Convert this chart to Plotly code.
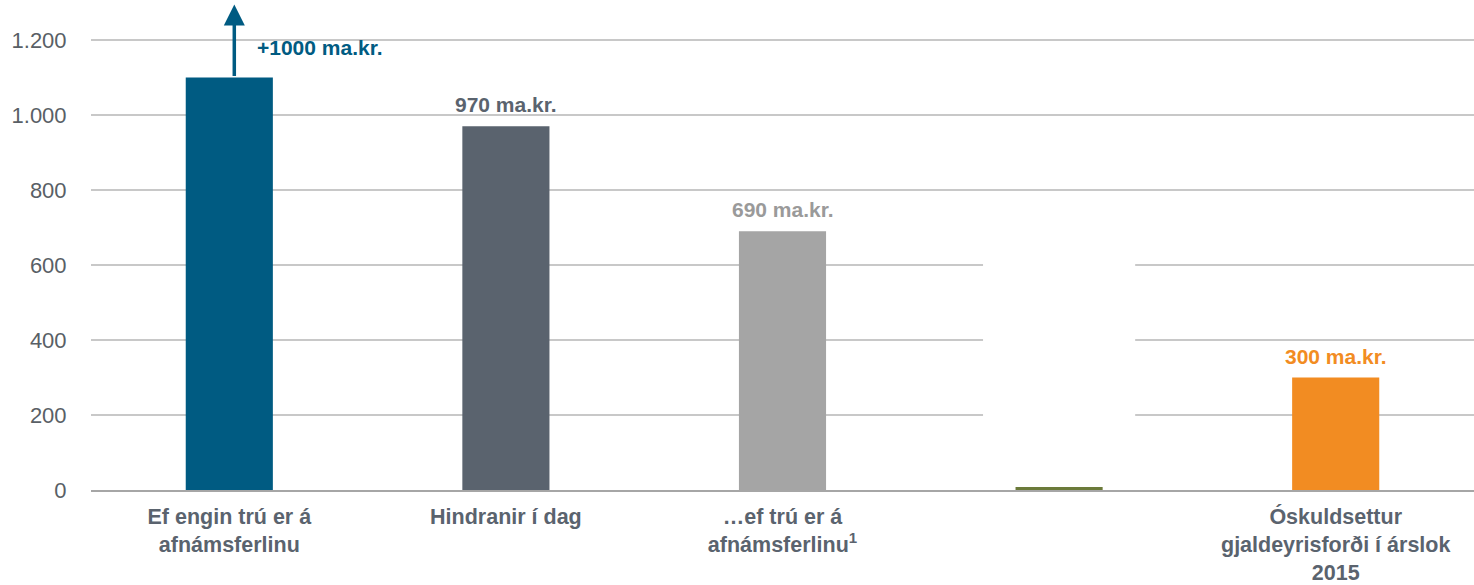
import plotly.graph_objects as go

categories = ["c1", "c2", "c3", "c4", "c5"]
tick_labels = [
    "Ef engin trú er á<br>afnámsferlinu",
    "Hindranir í dag",
    "…ef trú er á<br>afnámsferlinu<sup>1</sup>",
    "",
    "Óskuldsettur<br>gjaldeyrisforði í árslok<br>2015",
]
values = [1100, 970, 690, 8, 300]
bar_colors = ["#005b82", "#5a636e", "#a5a5a5", "#6b7a3a", "#f28c22"]
value_labels = ["+1000 ma.kr.", "970 ma.kr.", "690 ma.kr.", "", "300 ma.kr."]
label_colors = ["#005b82", "#5a636e", "#9a9a9a", "#6b7a3a", "#f28c22"]
y_ticks = [0, 200, 400, 600, 800, 1000, 1200]
y_ticktext = ["0", "200", "400", "600", "800", "1.000", "1.200"]

fig = go.Figure()
fig.add_trace(go.Bar(
    x=categories, y=values, marker_color=bar_colors,
    marker_line_width=0, width=0.315, hoverinfo="skip",
))

# white box that interrupts the gridlines (as in the original)
fig.add_shape(type="rect", xref="x", yref="y", x0=3 - 0.275, x1=3 + 0.275,
              y0=30, y1=700, fillcolor="white", line_width=0, layer="between")

for i, (c, v, t, col) in enumerate(zip(categories, values, value_labels, label_colors)):
    if not t:
        continue
    if i == 0:
        fig.add_annotation(x=c, y=1295, ax=c, ay=v, axref="x", ayref="y", xshift=5,
                           showarrow=True, arrowhead=2, arrowsize=1.2, arrowwidth=3.5,
                           arrowcolor=col, text="")
        fig.add_annotation(x=c, y=1181, text=f"<b>{t}</b>", showarrow=False,
                           xanchor="left", yanchor="middle", xshift=26,
                           font=dict(family="Liberation Sans, Arial", size=21, color=col))
    else:
        fig.add_annotation(x=c, y=v, text=f"<b>{t}</b>", showarrow=False,
                           xanchor="center", yanchor="bottom", yshift=8,
                           font=dict(family="Liberation Sans, Arial", size=21, color=col))

fig.update_layout(
    width=1474, height=585,
    margin=dict(l=91, r=0, t=0, b=95),
    paper_bgcolor="white", plot_bgcolor="white",
    showlegend=False, bargap=0.68,
    font=dict(family="Liberation Sans, Arial", color="#595f66"),
)
fig.update_xaxes(
    automargin=False,
    tickmode="array", tickvals=categories, ticktext=tick_labels,
    tickfont=dict(family="Liberation Sans, Arial", size=21.5, color="#5a636e", weight="bold"),
    ticklabelstandoff=6,
    showline=True, linecolor="#a6a6a6", linewidth=2,
    showgrid=False, ticks="", ticklen=0, range=[-0.5, 4.5],
)
fig.update_yaxes(
    automargin=False,
    range=[0, 1306.7], tickmode="array", tickvals=y_ticks, ticktext=y_ticktext,
    tickfont=dict(size=22, color="#595f66"),
    showgrid=True, gridcolor="#c8c8c8", gridwidth=1.5, zeroline=False,
    ticks="outside", tickcolor="white", ticklen=19,
)

fig.write_html("out.html")
